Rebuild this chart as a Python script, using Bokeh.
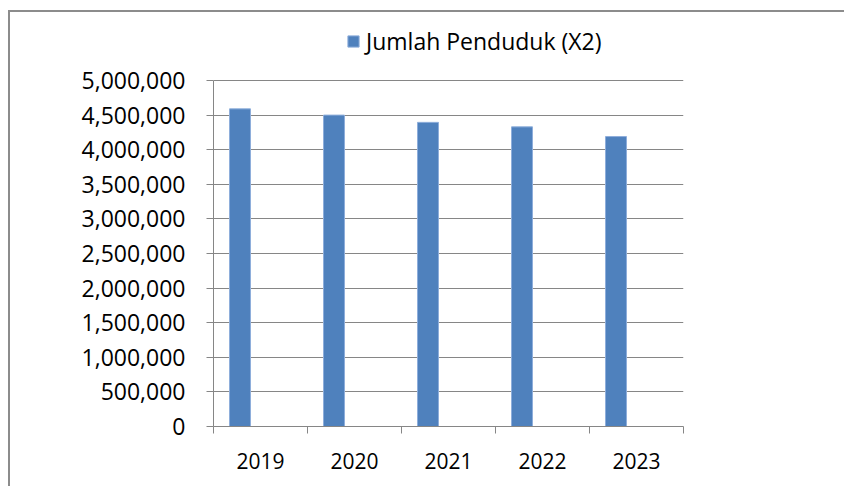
from bokeh.plotting import figure
from bokeh.models import (FixedTicker, NumeralTickFormatter, Legend, LegendItem,
                          ColumnDataSource)
from bokeh.embed import file_html
from bokeh.resources import INLINE

years = ["2019", "2020", "2021", "2022", "2023"]
penduduk = [4590000, 4500000, 4395000, 4330000, 4190000]
series_name = "Jumlah Penduduk (X2)"
y_ticks = [0, 500000, 1000000, 1500000, 2000000, 2500000, 3000000,
           3500000, 4000000, 4500000, 5000000]
y_axis_max = 5000000

FONT = "Open Sans"
GRID = "#868686"
BAR = "#4F81BD"

# frame extends above the axis maximum so the legend (drawn inside the frame) is not clipped
AXIS_PX = 346      # pixel height of 0..y_axis_max
FRAME_PX = 406     # total frame height
y_view_max = y_axis_max * FRAME_PX / AXIS_PX

idx = list(range(len(years)))
src = ColumnDataSource(dict(x=[i + 0.282 for i in idx], top=penduduk, year=years))

H = 476
p = figure(width=836, height=H, output_backend="svg", toolbar_location=None,
           x_range=(0, len(years)), y_range=(0, y_view_max),
           min_border_left=203, min_border_right=836 - 673,
           min_border_top=8, min_border_bottom=H - 414)
p.styles = {"margin-top": "10px", "margin-left": "8px",
            "border-top": "2px solid #8c8c8c",
            "border-left": "2px solid #8c8c8c"}
p.outline_line_color = None

r = p.vbar(x="x", top="top", width=0.223, bottom=0, source=src,
           fill_color=BAR, line_color="#8eaedb", line_width=1)

# y axis
p.yaxis.ticker = FixedTicker(ticks=y_ticks)
p.yaxis.bounds = (0, y_axis_max)
p.yaxis.formatter = NumeralTickFormatter(format="0,0")
p.yaxis.axis_line_color = GRID
p.yaxis.major_tick_line_color = GRID
p.yaxis.major_tick_out = 7
p.yaxis.major_tick_in = 0
p.yaxis.minor_tick_line_color = None
p.yaxis.major_label_text_font = FONT
p.yaxis.major_label_text_font_size = "23px"
p.yaxis.major_label_text_color = "#000000"
p.yaxis.major_label_standoff = 21

# x axis: labels at category centres, tick marks at boundaries
p.xaxis.ticker = FixedTicker(ticks=[i + 0.5 for i in idx],
                             minor_ticks=list(range(len(years) + 1)))
p.xaxis.major_label_overrides = {i + 0.5: y for i, y in zip(idx, years)}
p.xaxis.axis_line_color = GRID
p.xaxis.major_tick_line_color = None
p.xaxis.major_tick_out = 0
p.xaxis.major_tick_in = 0
p.xaxis.minor_tick_line_color = GRID
p.xaxis.minor_tick_out = 7
p.xaxis.minor_tick_in = 0
p.xaxis.major_label_text_font = FONT
p.xaxis.major_label_text_font_size = "21px"
p.xaxis.major_label_text_color = "#000000"
p.xaxis.major_label_standoff = 19

p.xgrid.grid_line_color = None
p.ygrid.ticker = FixedTicker(ticks=y_ticks)
p.ygrid.grid_line_color = GRID
p.ygrid.grid_line_width = 1

legend = Legend(items=[LegendItem(label=series_name, renderers=[r])],
                location=(133, 369), orientation="horizontal",
                glyph_width=14, glyph_height=14, label_standoff=6,
                padding=0, margin=0, spacing=0, border_line_color=None,
                background_fill_alpha=0,
                label_text_font=FONT, label_text_font_size="23px",
                label_text_color="#000000")
p.add_layout(legend, "center")

open("out.html", "w").write(file_html(p, INLINE))
